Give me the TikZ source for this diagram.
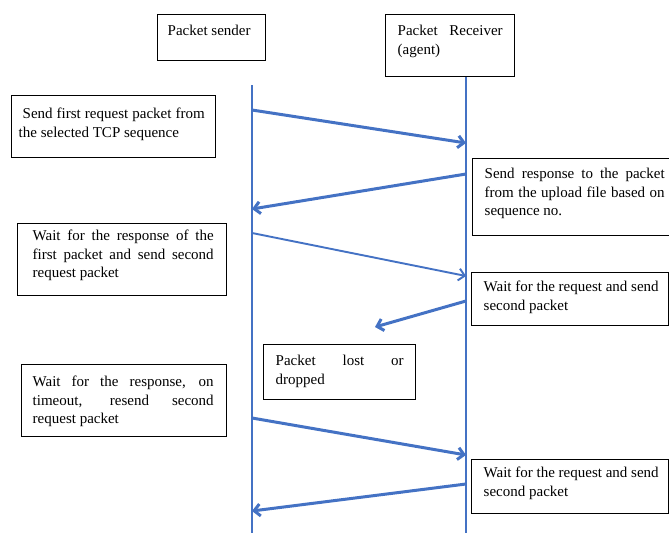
\documentclass[tikz,border=0pt]{standalone}
\usepackage{fontspec}
\setmainfont{Liberation Serif}
\usetikzlibrary{arrows.meta}
\definecolor{seqblue}{RGB}{68,114,196}
\newcommand{\tbx}[6]{\hspace*{#1pt}\parbox[t][#4pt][t]{#2pt}{\vspace*{#5pt}\strut #6}\hspace*{#3pt}}
\newcommand{\jl}[2]{\makebox[#1pt][s]{#2}}
\begin{document}
\begin{tikzpicture}[x=1pt,y=-1pt,
  box/.style={draw=black, line width=1.4pt, fill=white, inner sep=0pt, anchor=north west,
    font=\fontsize{15}{18.5}\selectfont},
  life/.style={draw=seqblue, line width=1.3pt},
  msg/.style={draw=seqblue, line width=3pt, -{Straight Barb[length=6pt,width=12pt]}},
  thinmsg/.style={draw=seqblue, line width=1.9pt, -{Straight Barb[length=6pt,width=12pt]}}]
\useasboundingbox (0,0) rectangle (669,533);
\begin{scope}
\clip (0,0) rectangle (669,533);
% lifelines
\coordinate (sTop) at (252,85);
\coordinate (sBot) at (252,533);
\coordinate (rTop) at (466,76);
\coordinate (rBot) at (466,533);
\draw[life] (sTop) -- (sBot);
\draw[life] (rTop) -- (rBot);
% headers
\node[box] (snd) at (157,14) {\tbx{10}{88}{10}{46}{8}{Packet sender}};
\node[box] (rcv) at (385,14) {\tbx{12}{105}{12}{62}{8}{\jl{105}{Packet Receiver}\\(agent)}};
% description boxes
\node[box] (b1) at (11,95) {\tbx{7}{186}{11}{62}{10}{\hspace*{4pt}\jl{182}{Send first request packet from}\\the selected TCP sequence}};
\node[box] (b2) at (472,158) {\tbx{12}{180}{12}{77}{7}{\jl{180}{Send response to the packet}\\\jl{180}{from the upload file based on}\\sequence no.}};
\node[box] (b3) at (17,223) {\tbx{15}{181}{13}{72}{4}{\jl{181}{Wait for the response of the}\\\jl{181}{first packet and send second}\\request packet}};
\node[box] (b4) at (471,272) {\tbx{12}{183}{2}{53}{6}{Wait for the request and send\\second packet}};
\node[box] (lost) at (263,344) {\tbx{12}{128}{12}{55}{8}{\jl{128}{Packet lost or}\\dropped}};
\node[box] (b5) at (21,364) {\tbx{11}{181}{13}{72}{9}{\jl{181}{Wait for the response, on}\\\jl{181}{timeout, resend second}\\request packet}};
\node[box] (b6) at (471,459) {\tbx{12}{183}{2}{54}{5}{Wait for the request and send\\second packet}};
% message points
\coordinate (s1) at (252,110); \coordinate (r1) at (466,143);
\coordinate (r2) at (466,174); \coordinate (s2) at (252,209);
\coordinate (s3) at (252,233); \coordinate (r3) at (466,276);
\coordinate (r4) at (466,301); \coordinate (d4) at (375,327);
\coordinate (s5) at (252,418); \coordinate (r5) at (466,455);
\coordinate (r6) at (466,484); \coordinate (s6) at (252,511);
\draw[msg] (s1) -- (r1);
\draw[msg] (r2) -- (s2);
\draw[thinmsg] (s3) -- (r3);
\draw[msg] (r4) -- (d4);
\draw[msg] (s5) -- (r5);
\draw[msg] (r6) -- (s6);
\end{scope}
\end{tikzpicture}
\end{document}
